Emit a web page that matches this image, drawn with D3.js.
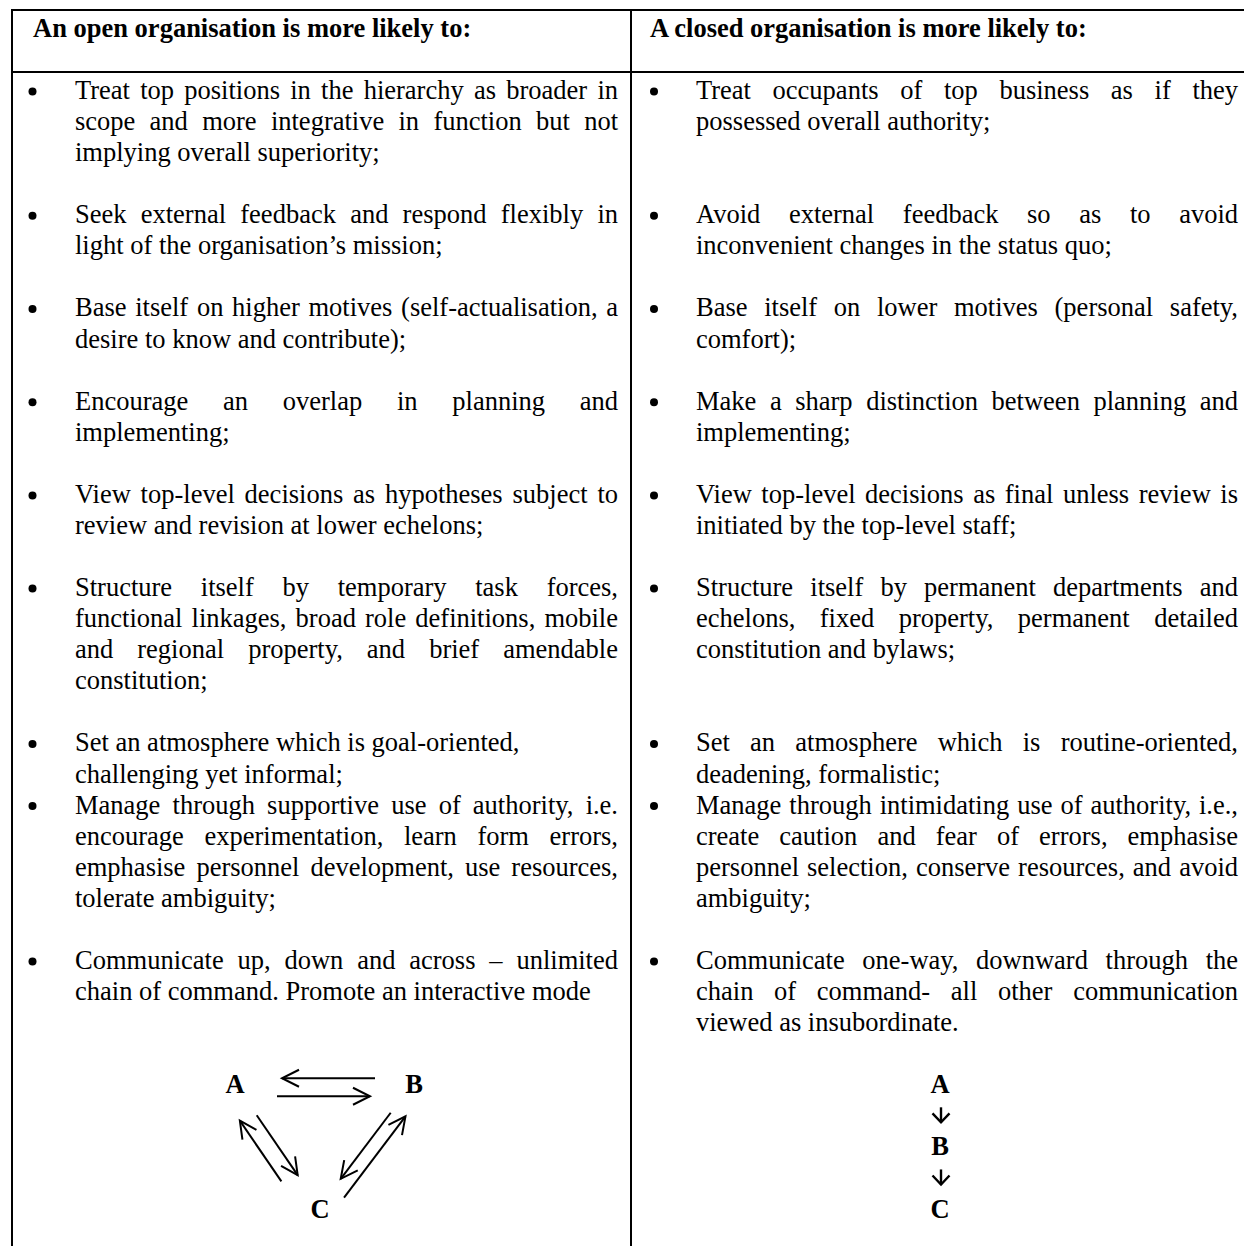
<!DOCTYPE html>
<html>
<head>
<meta charset="utf-8">
<script src="https://cdn.jsdelivr.net/npm/d3@7"></script>
<style>
html, body { margin: 0; padding: 0; background: #fff; }
svg { display: block; }
text { font-family: "Liberation Serif", "Times New Roman", serif; fill: #000; }
</style>
</head>
<body>
<svg></svg>
<script>
// Column headings
let headings = ['An open organisation is more likely to:', 'A closed organisation is more likely to:'];

// Left column items, one array of printed lines per bullet
let openItems = [
    ['Treat top positions in the hierarchy as broader in', 'scope and more integrative in function but not', 'implying overall superiority;'],
    ['Seek external feedback and respond flexibly in', 'light of the organisation\u2019s mission;'],
    ['Base itself on higher motives (self-actualisation, a', 'desire to know and contribute);'],
    ['Encourage an overlap in planning and', 'implementing;'],
    ['View top-level decisions as hypotheses subject to', 'review and revision at lower echelons;'],
    ['Structure itself by temporary task forces,', 'functional linkages, broad role definitions, mobile', 'and regional property, and brief amendable', 'constitution;'],
    ['Set an atmosphere which is goal-oriented,', 'challenging yet informal;'],
    ['Manage through supportive use of authority, i.e.', 'encourage experimentation, learn form errors,', 'emphasise personnel development, use resources,', 'tolerate ambiguity;'],
    ['Communicate up, down and across \u2013 unlimited', 'chain of command. Promote an interactive mode']
];

// Right column items
let closedItems = [
    ['Treat occupants of top business as if they', 'possessed overall authority;'],
    ['Avoid external feedback so as to avoid', 'inconvenient changes in the status quo;'],
    ['Base itself on lower motives (personal safety,', 'comfort);'],
    ['Make a sharp distinction between planning and', 'implementing;'],
    ['View top-level decisions as final unless review is', 'initiated by the top-level staff;'],
    ['Structure itself by permanent departments and', 'echelons, fixed property, permanent detailed', 'constitution and bylaws;'],
    ['Set an atmosphere which is routine-oriented,', 'deadening, formalistic;'],
    ['Manage through intimidating use of authority, i.e.,', 'create caution and fear of errors, emphasise', 'personnel selection, conserve resources, and avoid', 'ambiguity;'],
    ['Communicate one-way, downward through the', 'chain of command- all other communication', 'viewed as insubordinate.']
];

// Lines that are set flush left rather than justified
let raggedLines = ['Set an atmosphere which is goal-oriented,'];

// Blank lines after each pair of items
let gapsAfter = [1, 1, 1, 1, 1, 1, 0, 1, 1];

// Communication diagrams
let openNodes = ['A', 'B', 'C'];
let openLinks = [['B', 'A'], ['A', 'B'], ['A', 'C'], ['C', 'A'], ['B', 'C'], ['C', 'B']];
let closedNodes = ['A', 'B', 'C'];

// SVG dimensions
let width = 1244, height = 1246;
let fontSize = 26.5;

let svg = d3.select('svg').attr('width', width).attr('height', height);

// Row grid: every printed line sits on one row
let rowY = d3.scaleLinear().domain([0, 1]).range([99, 130.07]);

// Two columns
let columns = [
    { head: 33, bullet: 32.5, left: 75, right: 618, items: openItems },
    { head: 650, bullet: 654, left: 696, right: 1238, items: closedItems }
];

// Table rules
function drawRules() {
    let rules = svg.append('g').attr('stroke', '#000').attr('stroke-width', 2);
    rules.append('line').attr('x1', 11).attr('x2', width).attr('y1', 10).attr('y2', 10);
    rules.append('line').attr('x1', 11).attr('x2', width).attr('y1', 72).attr('y2', 72);
    rules.append('line').attr('x1', 12).attr('x2', 12).attr('y1', 9).attr('y2', height);
    rules.append('line').attr('x1', 631).attr('x2', 631).attr('y1', 9).attr('y2', height);
}

// One line of text, spread to the column width when justified
function drawLine(g, str, x0, x1, y, justify) {
    let t = g.append('text').attr('y', y).style('font-size', fontSize + 'px');
    if (!justify) {
        t.attr('x', x0).text(str);
        return;
    }
    let words = str.split(' ');
    let spans = t.selectAll('tspan').data(words).join('tspan').text(d => d);
    let widths = spans.nodes().map(n => n.getComputedTextLength());
    let gap = (x1 - x0 - d3.sum(widths)) / (words.length - 1);
    let x = x0;
    spans.attr('x', (d, i) => { let xi = x; x += widths[i] + gap; return xi; });
}

function drawColumns() {
    // starting row of every item pair
    let starts = [];
    let row = 0;
    openItems.forEach((d, i) => {
        starts.push(row);
        row += Math.max(openItems[i].length, closedItems[i].length) + gapsAfter[i];
    });

    columns.forEach((col, ci) => {
        let g = svg.append('g');
        g.append('text')
            .attr('x', col.head)
            .attr('y', rowY(-2))
            .style('font-size', fontSize + 'px')
            .style('font-weight', 'bold')
            .text(headings[ci]);

        col.items.forEach((lines, i) => {
            g.append('circle')
                .attr('cx', col.bullet)
                .attr('cy', rowY(starts[i]) - 7.5)
                .attr('r', 4);
            lines.forEach((ln, j) => {
                let justify = j < lines.length - 1 && !raggedLines.includes(ln);
                drawLine(g, ln, col.left, col.right, rowY(starts[i] + j), justify);
            });
        });
    });
    return row;
}

function arrowHead(g, tip, u, len, half) {
    let n = [-u[1], u[0]];
    let bx = tip[0] - u[0] * len, by = tip[1] - u[1] * len;
    g.append('path')
        .attr('d', `M${bx + n[0] * half},${by + n[1] * half}L${tip[0]},${tip[1]}L${bx - n[0] * half},${by - n[1] * half}`);
}

// Open organisation: everyone talks to everyone
function drawOpenDiagram(row0) {
    let pos = {
        A: { x: 235, row: row0 },
        B: { x: 414, row: row0 },
        C: { x: 320, row: row0 + 4 }
    };
    let g = svg.append('g');
    g.selectAll('text')
        .data(openNodes)
        .join('text')
        .attr('x', d => pos[d].x)
        .attr('y', d => rowY(pos[d].row))
        .attr('text-anchor', 'middle')
        .style('font-size', fontSize + 'px')
        .style('font-weight', 'bold')
        .text(d => d);

    // arrow ends aim at the middle of each letter
    let centre = d => [pos[d].x, rowY(pos[d].row) - 8];
    let shape = {
        'B-A': [39, 47, 7], 'A-B': [42, 44, 11],
        'A-C': [37, 41, -1], 'C-A': [45, 32, -16],
        'B-C': [36, 37, 2], 'C-B': [24, 30, 12]
    };
    let ga = g.append('g').attr('stroke', '#000').attr('stroke-width', 2).attr('fill', 'none');
    openLinks.forEach(([s, t]) => {
        let p = centre(s), q = centre(t);
        let dx = q[0] - p[0], dy = q[1] - p[1], L = Math.hypot(dx, dy);
        let u = [dx / L, dy / L], n = [-u[1], u[0]];
        let [g0, g1, off] = shape[s + '-' + t];
        let a = [p[0] + u[0] * g0 + n[0] * off, p[1] + u[1] * g0 + n[1] * off];
        let b = [q[0] - u[0] * g1 + n[0] * off, q[1] - u[1] * g1 + n[1] * off];
        ga.append('line').attr('x1', a[0]).attr('y1', a[1]).attr('x2', b[0]).attr('y2', b[1]);
        arrowHead(ga, b, u, 17, 8.5);
    });
}

// Closed organisation: one-way chain of command
function drawClosedDiagram(row0) {
    let x = 940;
    let g = svg.append('g');
    g.selectAll('text')
        .data(closedNodes)
        .join('text')
        .attr('x', x)
        .attr('y', (d, i) => rowY(row0 + i * 2))
        .attr('text-anchor', 'middle')
        .style('font-size', fontSize + 'px')
        .style('font-weight', 'bold')
        .text(d => d);

    let ga = g.append('g').attr('stroke', '#000').attr('stroke-width', 2.4).attr('fill', 'none');
    closedNodes.slice(1).forEach((d, i) => {
        let yb = rowY(row0 + i * 2 + 1);
        ga.append('line').attr('x1', x + 1).attr('x2', x + 1).attr('y1', yb - 17).attr('y2', yb - 2);
        arrowHead(ga, [x + 1, yb - 2], [0, 1], 9, 8.5);
    });
}

drawRules();
let lastRow = drawColumns();
drawOpenDiagram(lastRow);
drawClosedDiagram(lastRow);
</script>
</body>
</html>
